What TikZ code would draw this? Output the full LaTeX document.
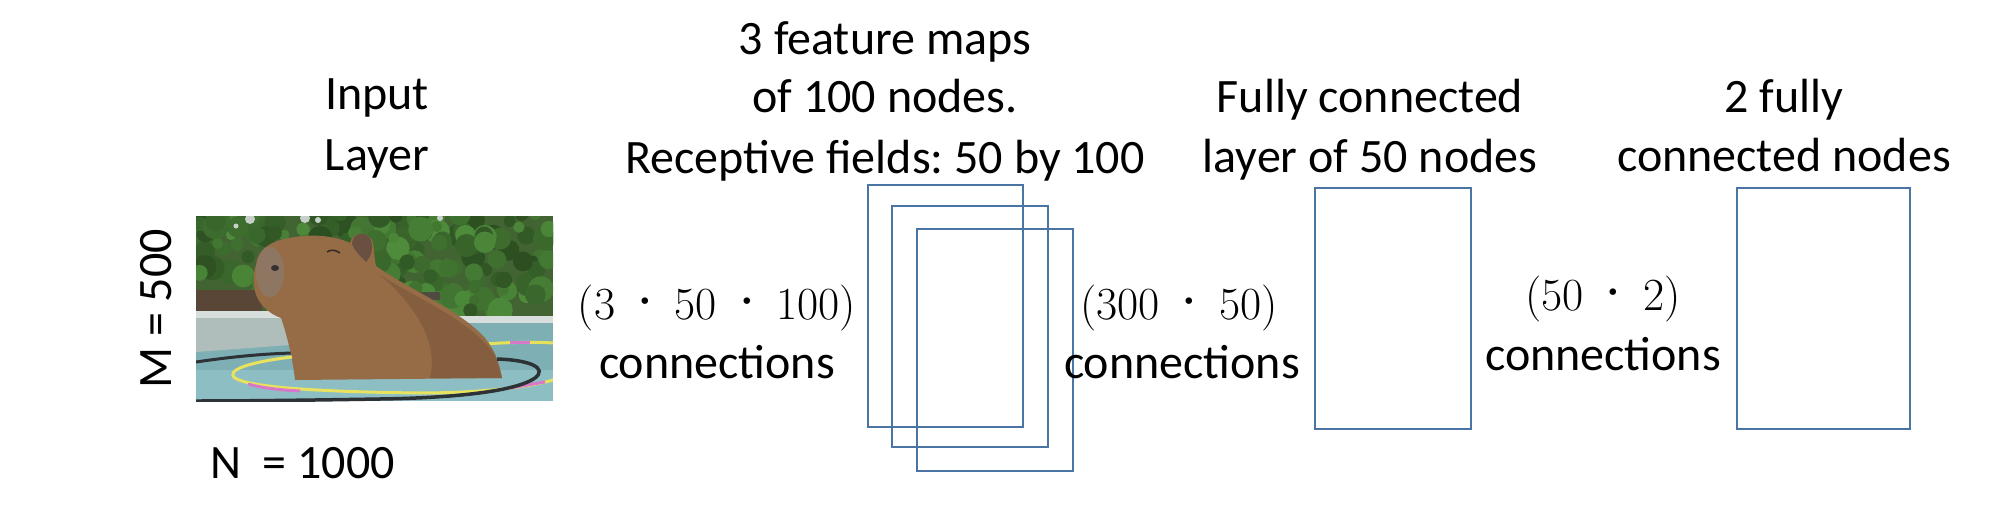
\documentclass[tikz,border=0pt]{standalone}
\usepackage[no-math]{fontspec}
\setmainfont{Carlito}
\newcommand{\cdt}{\hspace{1pt}{\fontsize{80}{80}\selectfont\raisebox{-9pt}{·}}\hspace{1pt}}
\begin{document}
\begin{tikzpicture}[x=1pt,y=-1pt,
  lbl/.style={font=\fontsize{48}{58.6}\selectfont\frenchspacing, inner sep=0pt, anchor=base, align=center},
  mth/.style={font=\fontfamily{lmr}\fontsize{46}{50}\selectfont, inner sep=0pt, anchor=base},
  layerbox/.style={draw=boxblue, line width=2pt, inner sep=0pt}]
\definecolor{boxblue}{HTML}{4A74A4}
\useasboundingbox (0,0) rectangle (2004,508);

% ---------- photo (drawn) ----------
\begin{scope}
\clip (196,216) rectangle (553,401);
\fill[color={rgb,255:red,66;green,100;blue,50}] (196,216) rectangle (553,320);
\pgfmathsetseed{11}
\foreach \i in {1,...,230}{
  \pgfmathsetmacro{\cx}{196+rnd*357}
  \pgfmathsetmacro{\cy}{214+rnd*102}
  \pgfmathsetmacro{\rr}{5+rnd*8}
  \pgfmathsetmacro{\gg}{78+rnd*62}
  \pgfmathsetmacro{\rd}{0.56*\gg}
  \pgfmathsetmacro{\bl}{0.42*\gg}
  \definecolor{tmp}{RGB}{\rd,\gg,\bl}
  \fill[tmp] (\cx,\cy) circle (\rr);
}
\foreach \cx/\cy/\r in {250/219/5,305/218/5,318/220/3,440/218/3,236/226/2.5}{
  \fill[color={rgb,255:red,200;green,208;blue,204}] (\cx,\cy) circle (\r);
}
% fence
\fill[color={rgb,255:red,90;green,70;blue,55}] (196,290) rectangle (262,314);
\fill[color={rgb,255:red,80;green,75;blue,65}] (405,292) rectangle (440,300);
% pool
\fill[color={rgb,255:red,125;green,175;blue,180}] (196,318) rectangle (553,401);
\fill[color={rgb,255:red,175;green,190;blue,186}] (196,312) -- (290,314) -- (290,345) -- (196,352) -- cycle;
\fill[color={rgb,255:red,215;green,222;blue,220}] (196,311) rectangle (290,318);
\fill[color={rgb,255:red,215;green,222;blue,220}] (450,316) rectangle (553,323);
\fill[color={rgb,255:red,140;green,190;blue,196}] (196,370) rectangle (553,401);
% hoop back
\draw[line width=3pt, color={rgb,255:red,230;green,225;blue,90}] (485,344) .. controls (510,342) and (540,342) .. (553,343);
\draw[line width=3pt, color={rgb,255:red,215;green,120;blue,200}] (510,342.5) -- (530,342.5);
% black ring back
\draw[line width=3pt, color={rgb,255:red,45;green,50;blue,55}] (196,362) .. controls (230,357) and (260,354) .. (292,353);
% capybara
\fill[color={rgb,255:red,150;green,108;blue,70}]
  (256,265) .. controls (257,250) and (270,240) .. (295,237)
  .. controls (315,234) and (335,236) .. (350,243)
  .. controls (352,234) and (364,229) .. (372,240)
  .. controls (375,250) and (374,258) .. (376,266)
  .. controls (410,290) and (460,310) .. (485,338)
  .. controls (495,350) and (500,365) .. (502,378)
  -- (295,380)
  .. controls (293,360) and (287,335) .. (281,318)
  .. controls (265,312) and (255,300) .. (254,285)
  .. controls (253,278) and (254,270) .. (256,265) -- cycle;
\fill[color={rgb,255:red,132;green,94;blue,63}]
  (380,275) .. controls (420,300) and (470,320) .. (495,355)
  -- (502,378) -- (430,378) .. controls (440,340) and (410,300) .. (380,275) -- cycle;
\fill[color={rgb,255:red,140;green,122;blue,105}, opacity=0.8] (270,272) ellipse (14 and 25);
\fill[color={rgb,255:red,105;green,80;blue,65}] (352,244) .. controls (352,234) and (363,230) .. (370,238)
  .. controls (374,246) and (372,256) .. (366,262) .. controls (360,256) and (354,250) .. (352,244) -- cycle;
\draw[line width=1.5pt, color={rgb,255:red,50;green,40;blue,35}] (327,252) .. controls (331,249) and (336,250) .. (340,253);
\fill[color={rgb,255:red,55;green,50;blue,50}] (275,268) ellipse (4 and 3);
% hoop front
\draw[line width=3pt, color={rgb,255:red,232;green,226;blue,95}]
  (292,357) .. controls (250,362) and (225,370) .. (235,378)
  .. controls (250,388) and (330,392) .. (420,393)
  .. controls (480,393) and (530,387) .. (553,380);
\draw[line width=3pt, color={rgb,255:red,215;green,120;blue,200}]
  (248,384) .. controls (262,388) and (280,390) .. (300,391);
\draw[line width=3pt, color={rgb,255:red,215;green,120;blue,200}] (510,388) -- (545,382);
% black ring front
\draw[line width=3.5pt, color={rgb,255:red,45;green,50;blue,55}]
  (497,359) .. controls (530,360) and (548,368) .. (535,378)
  .. controls (515,392) and (450,398) .. (380,399)
  .. controls (320,400) and (250,401) .. (196,401);
\end{scope}

% ---------- labels ----------
\node[lbl] (in1) at (377,110) {Input};
\node[lbl] (in2) at (377,170) {Layer};
\node[font=\fontsize{48}{58.6}\selectfont, inner sep=0pt, rotate=90] (m) at (156,309) {M = 500};
\node[font=\fontsize{48}{58.6}\selectfont, inner sep=0pt, anchor=base west] (n) at (210,478) {N\ \ = 1000};

\node[lbl] (fm1) at (885,55) {3 feature maps};
\node[lbl] (fm2) at (885,113) {of 100 nodes.};
\node[lbl] (fm3) at (885,173) {Receptive fields: 50 by 100};

\node[lbl] (fc1) at (1370,113) {Fully connected};
\node[lbl] (fc2) at (1370,172) {layer of 50 nodes};

\node[lbl] (tf1) at (1784,113) {2 fully};
\node[lbl] (tf2) at (1784,171) {connected nodes};

% ---------- boxes ----------
\node[layerbox, minimum width=155pt, minimum height=242pt] (b1) at (945.5,306) {};
\node[layerbox, minimum width=156pt, minimum height=241pt] (b2) at (970,326.5) {};
\node[layerbox, minimum width=156pt, minimum height=242pt] (b3) at (995,350) {};
\node[layerbox, minimum width=156pt, minimum height=241pt] (b4) at (1393,308.5) {};
\node[layerbox, minimum width=173pt, minimum height=241pt] (b5) at (1823.5,308.5) {};

% ---------- connection labels ----------
\node[mth] (c1) at (717,319) {(3\cdt 50\cdt 100)};
\node[lbl] (c1t) at (717,378) {connections};
\node[mth] (c2) at (1179,319) {(300\cdt 50)};
\node[lbl] (c2t) at (1182,378) {connections};
\node[mth] (c3) at (1603,310) {(50\cdt 2)};
\node[lbl] (c3t) at (1603,370) {connections};
\end{tikzpicture}
\end{document}
